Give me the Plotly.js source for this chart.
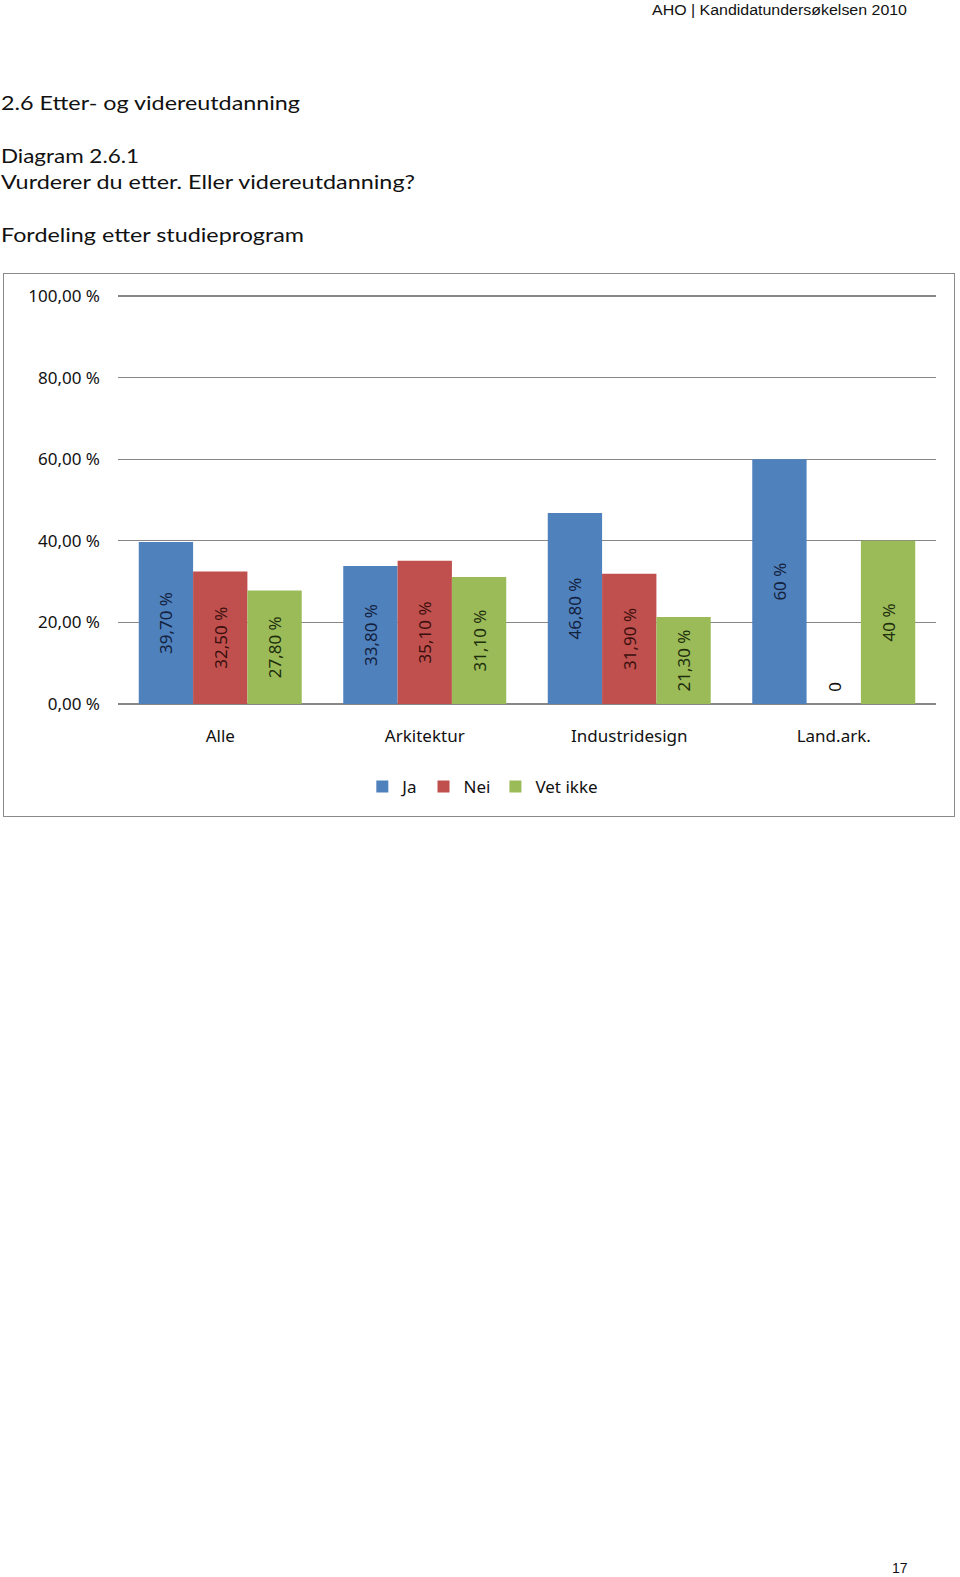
<!DOCTYPE html>
<html>
<head>
<meta charset="utf-8">
<script src="https://cdn.plot.ly/plotly-3.0.1.min.js"></script>
<style>
  html, body { margin:0; padding:0; background:#fff; }
  body { width:960px; height:1577px; position:relative; overflow:hidden; }
  #frame { position:absolute; left:3px; top:273px; width:952px; height:544px; box-sizing:border-box; border:1.5px solid #8a8a8a; }
  #chart { position:absolute; left:0; top:0; width:960px; height:1577px; }
  #page { position:absolute; left:0; top:0; width:960px; height:1577px; pointer-events:none; }
</style>
</head>
<body>
<div id="frame"></div>
<div id="chart"></div>
<svg id="page" width="960" height="1577" xmlns="http://www.w3.org/2000/svg">
  <text x="652" y="15" font-family="Liberation Sans, Arial" font-size="14" fill="#111" textLength="255" lengthAdjust="spacingAndGlyphs">AHO | Kandidatundersøkelsen 2010</text>
  <text x="1" y="110" font-family="Lato" font-size="20" fill="#111" textLength="299" lengthAdjust="spacingAndGlyphs">2.6 Etter- og videreutdanning</text>
  <text x="1" y="162.5" font-family="Lato" font-size="20" fill="#111" textLength="138" lengthAdjust="spacingAndGlyphs">Diagram 2.6.1</text>
  <text x="1" y="188.5" font-family="Lato" font-size="20" fill="#111" textLength="414" lengthAdjust="spacingAndGlyphs">Vurderer du etter. Eller videreutdanning?</text>
  <text x="1" y="241.5" font-family="Lato" font-size="20" fill="#111" textLength="303" lengthAdjust="spacingAndGlyphs">Fordeling etter studieprogram</text>
  <text x="892" y="1573" font-family="Liberation Sans, Arial" font-size="14" fill="#111">17</text>
</svg>
<script>
// ---- data ----
const categories = ['Alle', 'Arkitektur', 'Industridesign', 'Land.ark.'];
const seriesNames = ['Ja', 'Nei', 'Vet ikke'];
const valuesJa  = [39.7, 33.8, 46.8, 60];
const valuesNei = [32.5, 35.1, 31.9, 0];
const valuesVet = [27.8, 31.1, 21.3, 40];
const labelsJa  = ['39,70 %', '33,80 %', '46,80 %', '60 %'];
const labelsNei = ['32,50 %', '35,10 %', '31,90 %', '0'];
const labelsVet = ['27,80 %', '31,10 %', '21,30 %', '40 %'];
const yTickVals = [0, 20, 40, 60, 80, 100];
const yTickText = ['0,00 %', '20,00 %', '40,00 %', '60,00 %', '80,00 %', '100,00 %'];

// ---- styles ----
const colors = ['#4F81BD', '#C0504D', '#9BBB59'];
const labelColors = ['#13213d', '#3b0f0e', '#1e2e0c'];
const FONT = 'Noto Sans, Open Sans, sans-serif';

function barTrace(name, y, text, i) {
  return {
    type: 'bar', name: name, x: categories, y: y, text: text,
    marker: { color: colors[i] },
    textposition: 'inside', textangle: -90, insidetextanchor: 'middle',
    constraintext: 'none', cliponaxis: false,
    textfont: { family: FONT, size: 17, color: labelColors[i] },
    hoverinfo: 'skip'
  };
}

const series = [valuesJa, valuesNei, valuesVet];
const seriesLabels = [labelsJa, labelsNei, labelsVet];
const data = series.map((v, i) => barTrace(seriesNames[i], v, seriesLabels[i], i));

// Zero-height bars cannot carry inside text; label them with annotations
// anchored at the bar's own category/value (middle series sits at the category centre).
const annotations = [];
series.forEach((vals, i) => {
  vals.forEach((v, j) => {
    if (v === 0) {
      annotations.push({
        x: categories[j], y: v, xref: 'x', yref: 'y',
        text: seriesLabels[i][j], textangle: -90, showarrow: false,
        xanchor: 'center', yanchor: 'bottom', yshift: 10,
        xshift: (i - 1) * 54.5,
        font: { family: FONT, size: 17, color: '#111' }
      });
    }
  });
});

const layout = {
  width: 960, height: 1577,
  margin: { l: 118, r: 24, t: 295, b: 873, pad: 0 },
  paper_bgcolor: 'rgba(0,0,0,0)', plot_bgcolor: 'rgba(0,0,0,0)',
  barmode: 'group', bargap: 0.203, bargroupgap: 0,
  showlegend: true,
  legend: {
    orientation: 'h', x: 0.446, xanchor: 'center', y: -0.203, yanchor: 'middle',
    font: { family: FONT, size: 17, color: '#111' }, bgcolor: 'rgba(0,0,0,0)',
    traceorder: 'normal'
  },
  xaxis: {
    type: 'category', showgrid: false, showline: false, zeroline: false,
    ticks: '', ticklabelstandoff: 20,
    tickfont: { family: FONT, size: 17, color: '#111' }
  },
  yaxis: {
    range: [0, 100.25], tickvals: yTickVals, ticktext: yTickText,
    showgrid: true, gridcolor: '#878787', gridwidth: 1.3,
    zeroline: true, zerolinecolor: '#878787', zerolinewidth: 1.5,
    showline: false, ticks: '', ticklabelstandoff: 17,
    tickfont: { family: FONT, size: 17, color: '#111' }
  },
  annotations: annotations,
  font: { family: FONT }
};

Plotly.newPlot('chart', data, layout, { displayModeBar: false, staticPlot: true });
</script>
</body>
</html>
